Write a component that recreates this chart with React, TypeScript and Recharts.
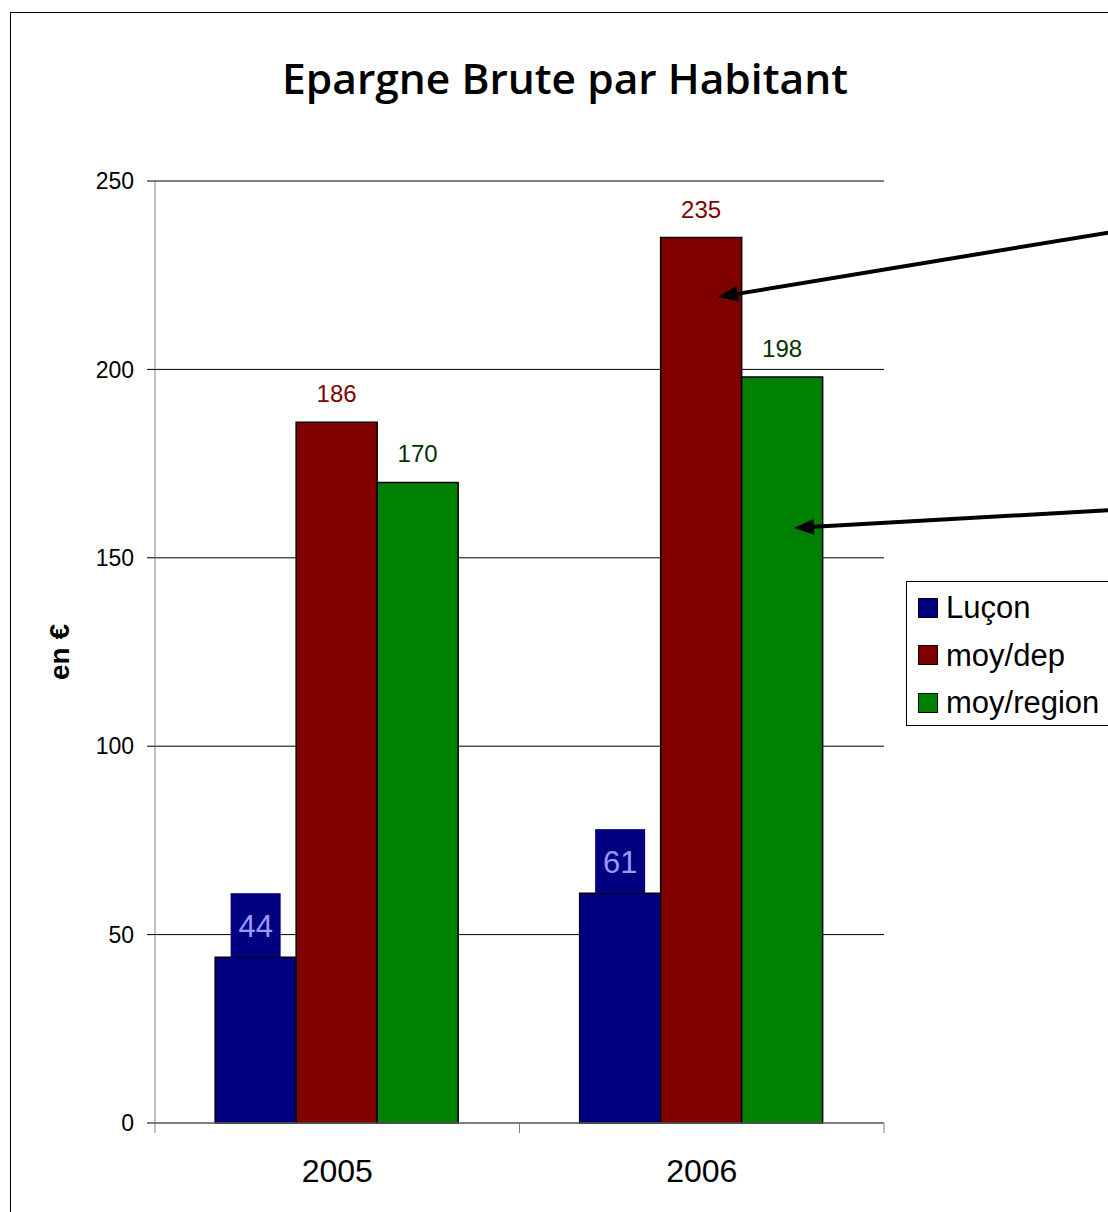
import React from "react";
import { BarChart, Bar, XAxis, YAxis, CartesianGrid, LabelList } from "recharts";

const categories = ["2005", "2006"];
const lucon = [44, 61];
const moyDep = [186, 235];
const moyRegion = [170, 198];
const yTicks = [0, 50, 100, 150, 200, 250];

const seriesNames = ["Luçon", "moy/dep", "moy/region"];
const seriesKeys = ["lucon", "dep", "region"];
const seriesColors = ["#000080", "#800000", "#008000"];

const data = categories.map((year, i) => ({
  year,
  lucon: lucon[i],
  dep: moyDep[i],
  region: moyRegion[i],
}));

const W = 1108;
const H = 1212;
const PLOT_W = 729;
const HALF_BAND = PLOT_W / categories.length / 2;
const FONT = '"Liberation Sans", Arial, sans-serif';

function XTick(props: any) {
  const { x, y, payload } = props;
  const axisY = y - 37;
  const half = typeof payload?.offset === "number" && payload.offset > 0 ? payload.offset : HALF_BAND;
  const isLast = payload?.index === categories.length - 1 || payload?.value === categories[categories.length - 1];
  return (
    <g>
      <line x1={x - half} x2={x - half} y1={axisY} y2={axisY + 10} stroke="#808080" />
      {isLast && <line x1={x + half} x2={x + half} y1={axisY} y2={axisY + 10} stroke="#808080" />}
      <text x={x} y={y + 22} textAnchor="middle" fontSize={32} fontFamily={FONT} fill="#000">
        {payload.value}
      </text>
    </g>
  );
}

function LuconLabel(props: any) {
  const vb = props.viewBox ?? props;
  const x = props.x ?? vb.x;
  const y = props.y ?? vb.y;
  const width = props.width ?? vb.width;
  const cx = x + width / 2;
  return (
    <g>
      <rect x={cx - 25} y={y - 64} width={50} height={64} fill="#000080" />
      <text x={cx} y={y - 20} textAnchor="middle" fontSize={31} fontFamily={FONT} fill="#9999ff">
        {props.value}
      </text>
    </g>
  );
}

function YTitle(props: any) {
  const vb = props.viewBox;
  const cy = vb.y + vb.height / 2;
  const x = 69;
  return (
    <text
      x={x}
      y={cy}
      transform={`rotate(-90, ${x}, ${cy})`}
      textAnchor="middle"
      fontSize={28}
      fontWeight="bold"
      fontFamily={FONT}
      fill="#000"
    >
      en €
    </text>
  );
}

function Arrow({ x1, y1, x2, y2 }: { x1: number; y1: number; x2: number; y2: number }) {
  const len = 20;
  const hw = 8;
  const a = Math.atan2(y2 - y1, x2 - x1);
  const bx = x2 - len * Math.cos(a);
  const by = y2 - len * Math.sin(a);
  const px = -Math.sin(a) * hw;
  const py = Math.cos(a) * hw;
  return (
    <g>
      <line x1={x1} y1={y1} x2={bx + 4 * Math.cos(a)} y2={by + 4 * Math.sin(a)} stroke="#000" strokeWidth={4} />
      <polygon points={`${x2},${y2} ${bx + px},${by + py} ${bx - px},${by - py}`} fill="#000" />
    </g>
  );
}

export default function App() {
  return (
    <div
      style={{
        position: "fixed",
        left: 0,
        top: 0,
        width: W,
        height: H,
        overflow: "hidden",
        background: "#fff",
        fontFamily: FONT,
      }}
    >
      <div
        style={{
          position: "absolute",
          left: 10,
          top: 12,
          width: 1300,
          height: 1400,
          border: "1.5px solid #000",
          boxSizing: "border-box",
        }}
      />
      <div style={{ position: "absolute", left: 0, top: 0 }}>
        <BarChart
          width={W}
          height={H}
          data={data}
          margin={{ top: 181, right: 224, left: 8, bottom: 29 }}
          barGap={0}
          barCategoryGap="16.5%"
        >
          <CartesianGrid horizontal vertical={false} stroke="#000" strokeWidth={1} />
          <XAxis
            dataKey="year"
            height={60}
            axisLine={{ stroke: "#808080", strokeWidth: 1 }}
            tickLine={false}
            tickSize={10}
            tickMargin={27}
            interval={0}
            tick={<XTick />}
          />
          <YAxis
            domain={[0, 250]}
            ticks={yTicks}
            interval={0}
            width={147}
            axisLine={{ stroke: "#808080", strokeWidth: 1 }}
            tickLine={{ stroke: "#000" }}
            tickSize={8}
            tickMargin={13}
            tick={{ fill: "#000", fontSize: 23, fontFamily: FONT }}
            label={{ content: <YTitle /> }}
          />
          <Bar dataKey="lucon" fill="#000080" stroke="#000" strokeWidth={1.5} isAnimationActive={false}>
            <LabelList dataKey="lucon" content={<LuconLabel />} />
          </Bar>
          <Bar dataKey="dep" fill="#800000" stroke="#000" strokeWidth={1.5} isAnimationActive={false}>
            <LabelList dataKey="dep" position="top" offset={20} fill="#800000" fontSize={24} fontFamily={FONT} />
          </Bar>
          <Bar dataKey="region" fill="#008000" stroke="#000" strokeWidth={1.5} isAnimationActive={false}>
            <LabelList dataKey="region" position="top" offset={20} fill="#003300" fontSize={24} fontFamily={FONT} />
          </Bar>
        </BarChart>
      </div>
      <svg width={W} height={H} style={{ position: "absolute", left: 0, top: 0, pointerEvents: "none" }}>
        <text
          x={565}
          y={94}
          textAnchor="middle"
          fontSize={41}
          fontWeight={600}
          fontFamily='"Open Sans", sans-serif'
          textLength={566}
          lengthAdjust="spacingAndGlyphs"
          fill="#000"
        >
          Epargne Brute par Habitant
        </text>
        <Arrow x1={1112} y1={232} x2={718} y2={297} />
        <Arrow x1={1112} y1={510} x2={794} y2={528} />
      </svg>
      <div
        style={{
          position: "absolute",
          left: 906,
          top: 581,
          width: 260,
          height: 145,
          border: "1px solid #000",
          boxSizing: "border-box",
          background: "#fff",
          paddingTop: 2,
        }}
      >
        {seriesNames.map((name, i) => (
          <div key={seriesKeys[i]} style={{ display: "flex", alignItems: "center", height: 47.5 }}>
            <span
              style={{
                display: "inline-block",
                width: 20,
                height: 20,
                marginLeft: 11,
                marginRight: 8,
                background: seriesColors[i],
                border: "1.5px solid #000",
                boxSizing: "border-box",
              }}
            />
            <span style={{ fontSize: 31, lineHeight: "31px", color: "#000" }}>{name}</span>
          </div>
        ))}
      </div>
    </div>
  );
}
